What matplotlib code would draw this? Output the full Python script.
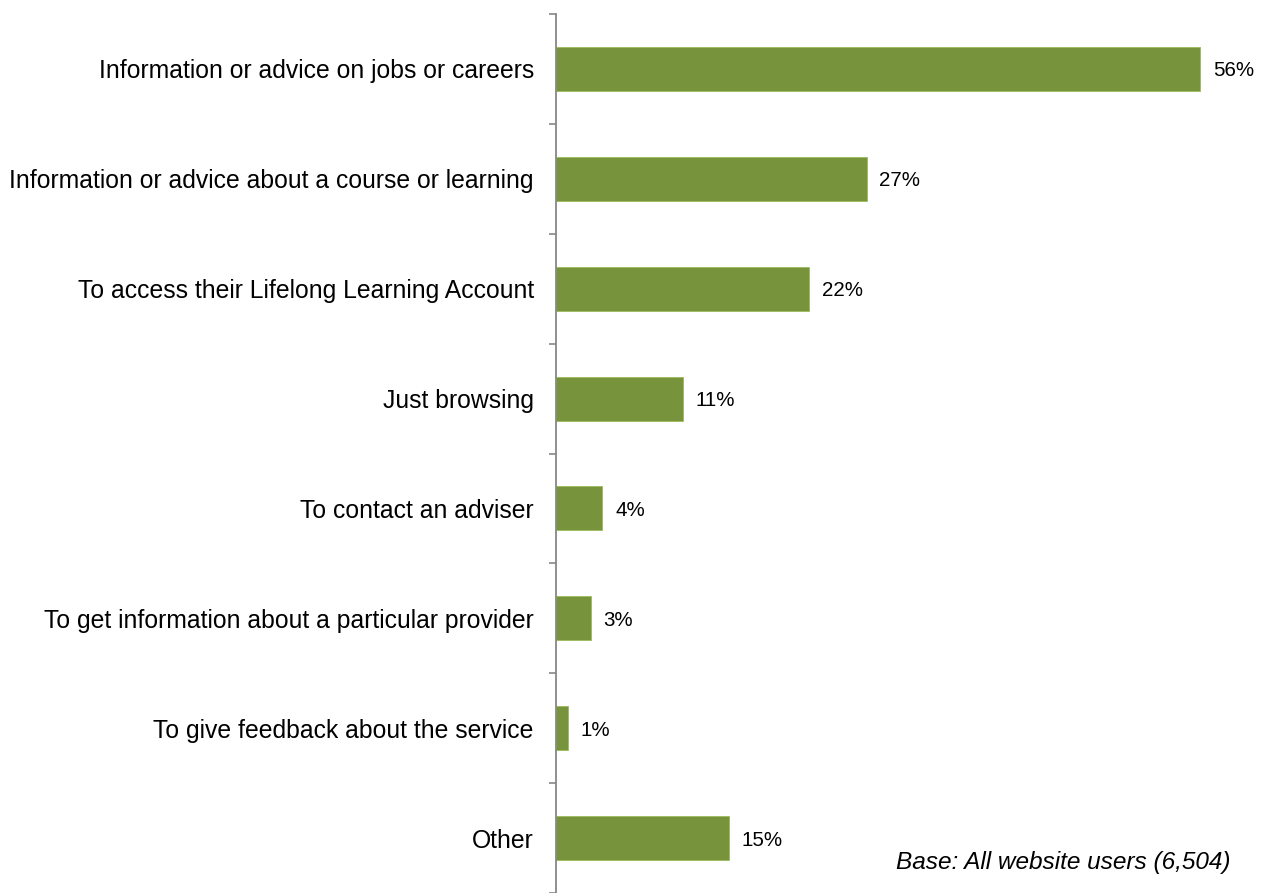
import matplotlib
matplotlib.use("Agg")
import matplotlib.pyplot as plt

categories = [
    "Information or advice on jobs or careers",
    "Information or advice about a course or learning",
    "To access their Lifelong Learning Account",
    "Just browsing",
    "To contact an adviser",
    "To get information about a particular provider",
    "To give feedback about the service",
    "Other",
]
values = [56, 27, 22, 11, 4, 3, 1, 15]
value_labels = ["56%", "27%", "22%", "11%", "4%", "3%", "1%", "15%"]
base_note = "Base: All website users (6,504)"

plt.rcParams["font.family"] = ["Liberation Sans", "DejaVu Sans"]

W, H = 1268, 893
fig = plt.figure(figsize=(W / 100, H / 100), dpi=100)
left_px, right_px, top_px, bottom_px = 556, 1256, 14, 893
ax = fig.add_axes([left_px / W, 1 - bottom_px / H,
                   (right_px - left_px) / W, (bottom_px - top_px) / H])

ypos = list(range(len(categories)))
bar_color = "#77933C"
ax.barh(ypos, values, height=0.4, color=bar_color, edgecolor="#9BBB59",
        linewidth=0.6)

ax.set_ylim(len(categories) - 0.5, -0.5)
ax.set_xlim(0, (right_px - left_px) / 11.5)

for s in ["top", "right", "bottom"]:
    ax.spines[s].set_visible(False)
ax.spines["left"].set_color("#878787")
ax.spines["left"].set_linewidth(1.3)

ax.set_xticks([])
ax.set_yticks(ypos)
ax.set_yticklabels(categories, fontsize=17.8)
ax.tick_params(axis="y", which="major", length=0, pad=16)
ax.set_yticks([i - 0.5 for i in range(len(categories) + 1)], minor=True)
ax.tick_params(axis="y", which="minor", length=5, width=1.2, color="#878787")

for y, v, lab in zip(ypos, values, value_labels):
    ax.annotate(lab, xy=(v, y), xytext=(13, -2), textcoords="offset pixels",
                va="center", ha="left", fontsize=14.8)

fig.text(1230 / W, 1 - 863 / H, base_note, ha="right", va="center",
         fontsize=17.6, style="italic")

fig.savefig("out.png", dpi=100)
